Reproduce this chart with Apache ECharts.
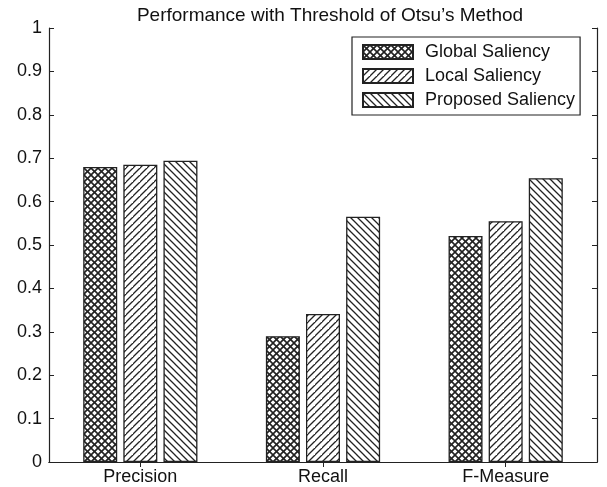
<!DOCTYPE html>
<html>
<head>
<meta charset="utf-8">
<script src="https://cdn.jsdelivr.net/npm/echarts@6/dist/echarts.min.js"></script>
<style>
  html, body { margin: 0; padding: 0; background: #fff; }
  #chart { width: 607px; height: 487px; }
</style>
</head>
<body>
<div id="chart"></div>
<script>
// Metric categories along the x axis
const categories = ['Precision', 'Recall', 'F-Measure'];
// Scores per saliency method
const globalSaliency = [0.680, 0.290, 0.521];
const localSaliency = [0.685, 0.341, 0.555];
const proposedSaliency = [0.694, 0.565, 0.654];
const seriesNames = ['Global Saliency', 'Local Saliency', 'Proposed Saliency'];
const titleText = 'Performance with Threshold of Otsu\u2019s Method';

const FONT = 'Liberation Sans, Arial, sans-serif';

// Hatch fills drawn into small tiles and repeated
function hatchTile(kind) {
  const s = 7;
  const c = document.createElement('canvas');
  c.width = s; c.height = s;
  const g = c.getContext('2d');
  g.fillStyle = '#fff';
  g.fillRect(0, 0, s, s);
  g.strokeStyle = '#222';
  g.lineWidth = 1.3;
  const fwd = () => { // "/" lines
    g.beginPath();
    g.moveTo(-1, s + 1); g.lineTo(s + 1, -1);
    g.moveTo(-1 - s, s + 1); g.lineTo(1, -1);
    g.moveTo(s - 1, 2 * s + 1); g.lineTo(2 * s + 1, s - 1);
    g.stroke();
  };
  const back = () => { // "\" lines
    g.beginPath();
    g.moveTo(-1, -1); g.lineTo(s + 1, s + 1);
    g.moveTo(-1 - s, -1); g.lineTo(1, s + 1);
    g.moveTo(s - 1, -1); g.lineTo(2 * s + 1, s + 1);
    g.stroke();
  };
  if (kind === 'cross') { g.lineWidth = 1.6; fwd(); back(); }
  else if (kind === 'fwd') fwd();
  else back();
  return { image: c, repeat: 'repeat' };
}

const patterns = [hatchTile('cross'), hatchTile('fwd'), hatchTile('back')];
const dataSets = [globalSaliency, localSaliency, proposedSaliency];

const chart = echarts.init(document.getElementById('chart'), null, { renderer: 'canvas' });

const grid = { left: 49, right: 10, top: 28, bottom: 25 };
const axisColor = '#222';

chart.setOption({
  animation: false,
  backgroundColor: '#fff',
  title: {
    text: titleText,
    left: 325, top: 1, textAlign: 'center',
    textStyle: { fontFamily: FONT, fontSize: 19, fontWeight: 'normal', color: '#111' }
  },
  legend: {
    orient: 'vertical',
    left: 352, top: 37,
    width: 230,
    padding: [6, 5, 6, 10],
    itemGap: 6,
    itemWidth: 50, itemHeight: 14,
    borderColor: axisColor, borderWidth: 1.2, borderRadius: 0,
    backgroundColor: '#fff',
    icon: 'rect',
    data: seriesNames,
    textStyle: { fontFamily: FONT, fontSize: 18, color: '#111', padding: [0, 0, 0, 7] }
  },
  grid: grid,
  xAxis: [{
    type: 'category',
    data: categories,
    axisLine: { lineStyle: { color: axisColor, width: 1.2 } },
    axisTick: { show: true, inside: true, length: 5, alignWithLabel: true, lineStyle: { color: axisColor } },
    axisLabel: { fontFamily: FONT, fontSize: 18, color: '#111', margin: 6 },
    splitLine: { show: false }
  }, {
    type: 'category',
    position: 'top',
    data: categories,
    axisLine: { lineStyle: { color: axisColor, width: 1.2 } },
    axisTick: { show: true, inside: true, length: 5, alignWithLabel: true, lineStyle: { color: axisColor } },
    axisLabel: { show: false }
  }],
  yAxis: [{
    type: 'value',
    min: 0, max: 1, interval: 0.1,
    axisLine: { show: true, lineStyle: { color: axisColor, width: 1.2 } },
    axisTick: { show: true, inside: true, length: 5, lineStyle: { color: axisColor } },
    axisLabel: {
      fontFamily: FONT, fontSize: 18, color: '#111', margin: 7,
      formatter: v => (Math.abs(v) < 1e-9 ? '0' : Math.abs(v - 1) < 1e-9 ? '1' : v.toFixed(1))
    },
    splitLine: { show: false }
  }, {
    type: 'value',
    position: 'right',
    min: 0, max: 1, interval: 0.1,
    axisLine: { show: true, lineStyle: { color: axisColor, width: 1.2 } },
    axisTick: { show: true, inside: true, length: 5, lineStyle: { color: axisColor } },
    axisLabel: { show: false },
    splitLine: { show: false }
  }],
  series: seriesNames.map((name, i) => ({
    name: name,
    type: 'bar',
    xAxisIndex: 0, yAxisIndex: 0,
    data: dataSets[i],
    barWidth: 34,
    barGap: '18%',
    itemStyle: { color: patterns[i], borderColor: axisColor, borderWidth: 1.3 }
  }))
});
</script>
</body>
</html>
